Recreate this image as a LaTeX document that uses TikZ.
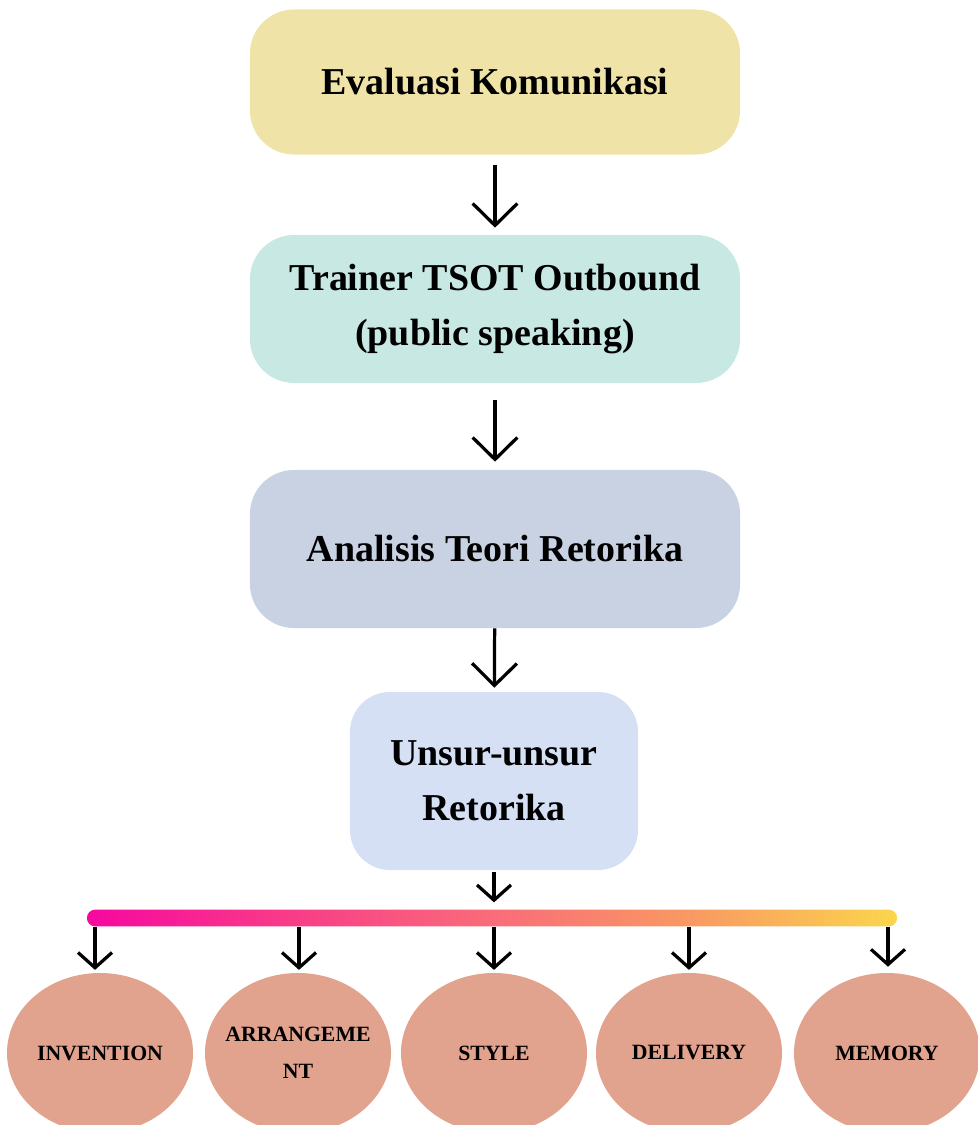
\documentclass[tikz,border=0pt]{standalone}
\usepackage{fontspec}
\setmainfont{Liberation Serif}
\usetikzlibrary{arrows.meta,shapes.geometric}

\definecolor{kuning}{HTML}{EFE3A8}
\definecolor{tosca}{HTML}{C8E8E4}
\definecolor{abu}{HTML}{C9D2E3}
\definecolor{biru}{HTML}{D5E0F5}
\definecolor{salem}{HTML}{E1A38E}
\definecolor{barA}{HTML}{F7089F}
\definecolor{barB}{HTML}{F83C88}
\definecolor{barC}{HTML}{F96C79}
\definecolor{barD}{HTML}{F99A62}
\definecolor{barE}{HTML}{FBD64C}

\pgfdeclarehorizontalshading{barshade}{100bp}{color(0bp)=(barA); color(25bp)=(barA); color(37.5bp)=(barB); color(50bp)=(barC); color(62.5bp)=(barD); color(75bp)=(barE); color(100bp)=(barE)}

\begin{document}
\begin{tikzpicture}[x=0.025cm,y=-0.025cm,
	kotak/.style={fill=#1,rounded corners=1.1cm,minimum width=12.25cm,align=center,inner sep=0pt,font=\bfseries\fontsize{27}{39}\selectfont},
	panah/.style={line width=2.3pt,-{Straight Barb[length=0.55cm,width=1.12cm]}},
	panahkecil/.style={line width=2.3pt,-{Straight Barb[length=0.38cm,width=0.85cm]}},
	bulat/.style={ellipse,fill=salem,minimum width=4.65cm,minimum height=4cm,inner sep=-0.8cm,align=center,font=\bfseries\fontsize{15.5}{26}\selectfont}]

	\useasboundingbox (0,0) rectangle (978,1125);

	\node[kotak=kuning,minimum height=3.625cm] (EK) at (495,82) {Evaluasi Komunikasi};
	\node[kotak=tosca,minimum height=3.7cm] (TT) at (495,309) {Trainer TSOT Outbound\\(public speaking)};
	\node[kotak=abu,minimum height=3.95cm] (AT) at (495,549) {Analisis Teori Retorika};
	\node[kotak=biru,minimum height=4.45cm,minimum width=7.2cm,rounded corners=1cm] (UR) at (494,781) {Unsur-unsur\\Retorika};

	\node[shade,shading=barshade,rounded corners=0.21cm,minimum width=20.25cm,minimum height=0.42cm,inner sep=0pt] (BAR) at (492,918) {};

	\coordinate (B1) at (95,927);
	\coordinate (B2) at (299,927);
	\coordinate (B3) at (494,927);
	\coordinate (B4) at (689,927);
	\coordinate (B5) at (888,927);

	\node[bulat] (E1) at (100,1053) {INVENTION};
	\node[bulat] (E2) at (298,1053) {ARRANGEME\\NT};
	\node[bulat] (E3) at (494,1053) {STYLE};
	\node[bulat] (E4) at (689,1053) {DELIVERY};
	\node[bulat] (E5) at (887,1053) {MEMORY};


	\draw[panah,shorten <=0.25cm,shorten >=0.175cm](EK)--(TT);
	\draw[panah,shorten <=0.42cm,shorten >=0.2cm](TT)--(AT);
	\draw[panah,shorten >=0.1cm](AT)--(UR);
	\draw[panahkecil,shorten <=0.05cm,shorten >=0.175cm](UR.south)--(BAR.north -| UR.south);

	\draw[panahkecil,shorten >=0.07cm](B1)--(E1.north -| B1);
	\draw[panahkecil,shorten >=0.07cm](B2)--(E2.north -| B2);
	\draw[panahkecil,shorten >=0.07cm](B3)--(E3.north -| B3);
	\draw[panahkecil,shorten >=0.07cm](B4)--(E4.north -| B4);
	\draw[panahkecil,shorten >=0.15cm](B5)--(E5.north -| B5);

\end{tikzpicture}
\end{document}
